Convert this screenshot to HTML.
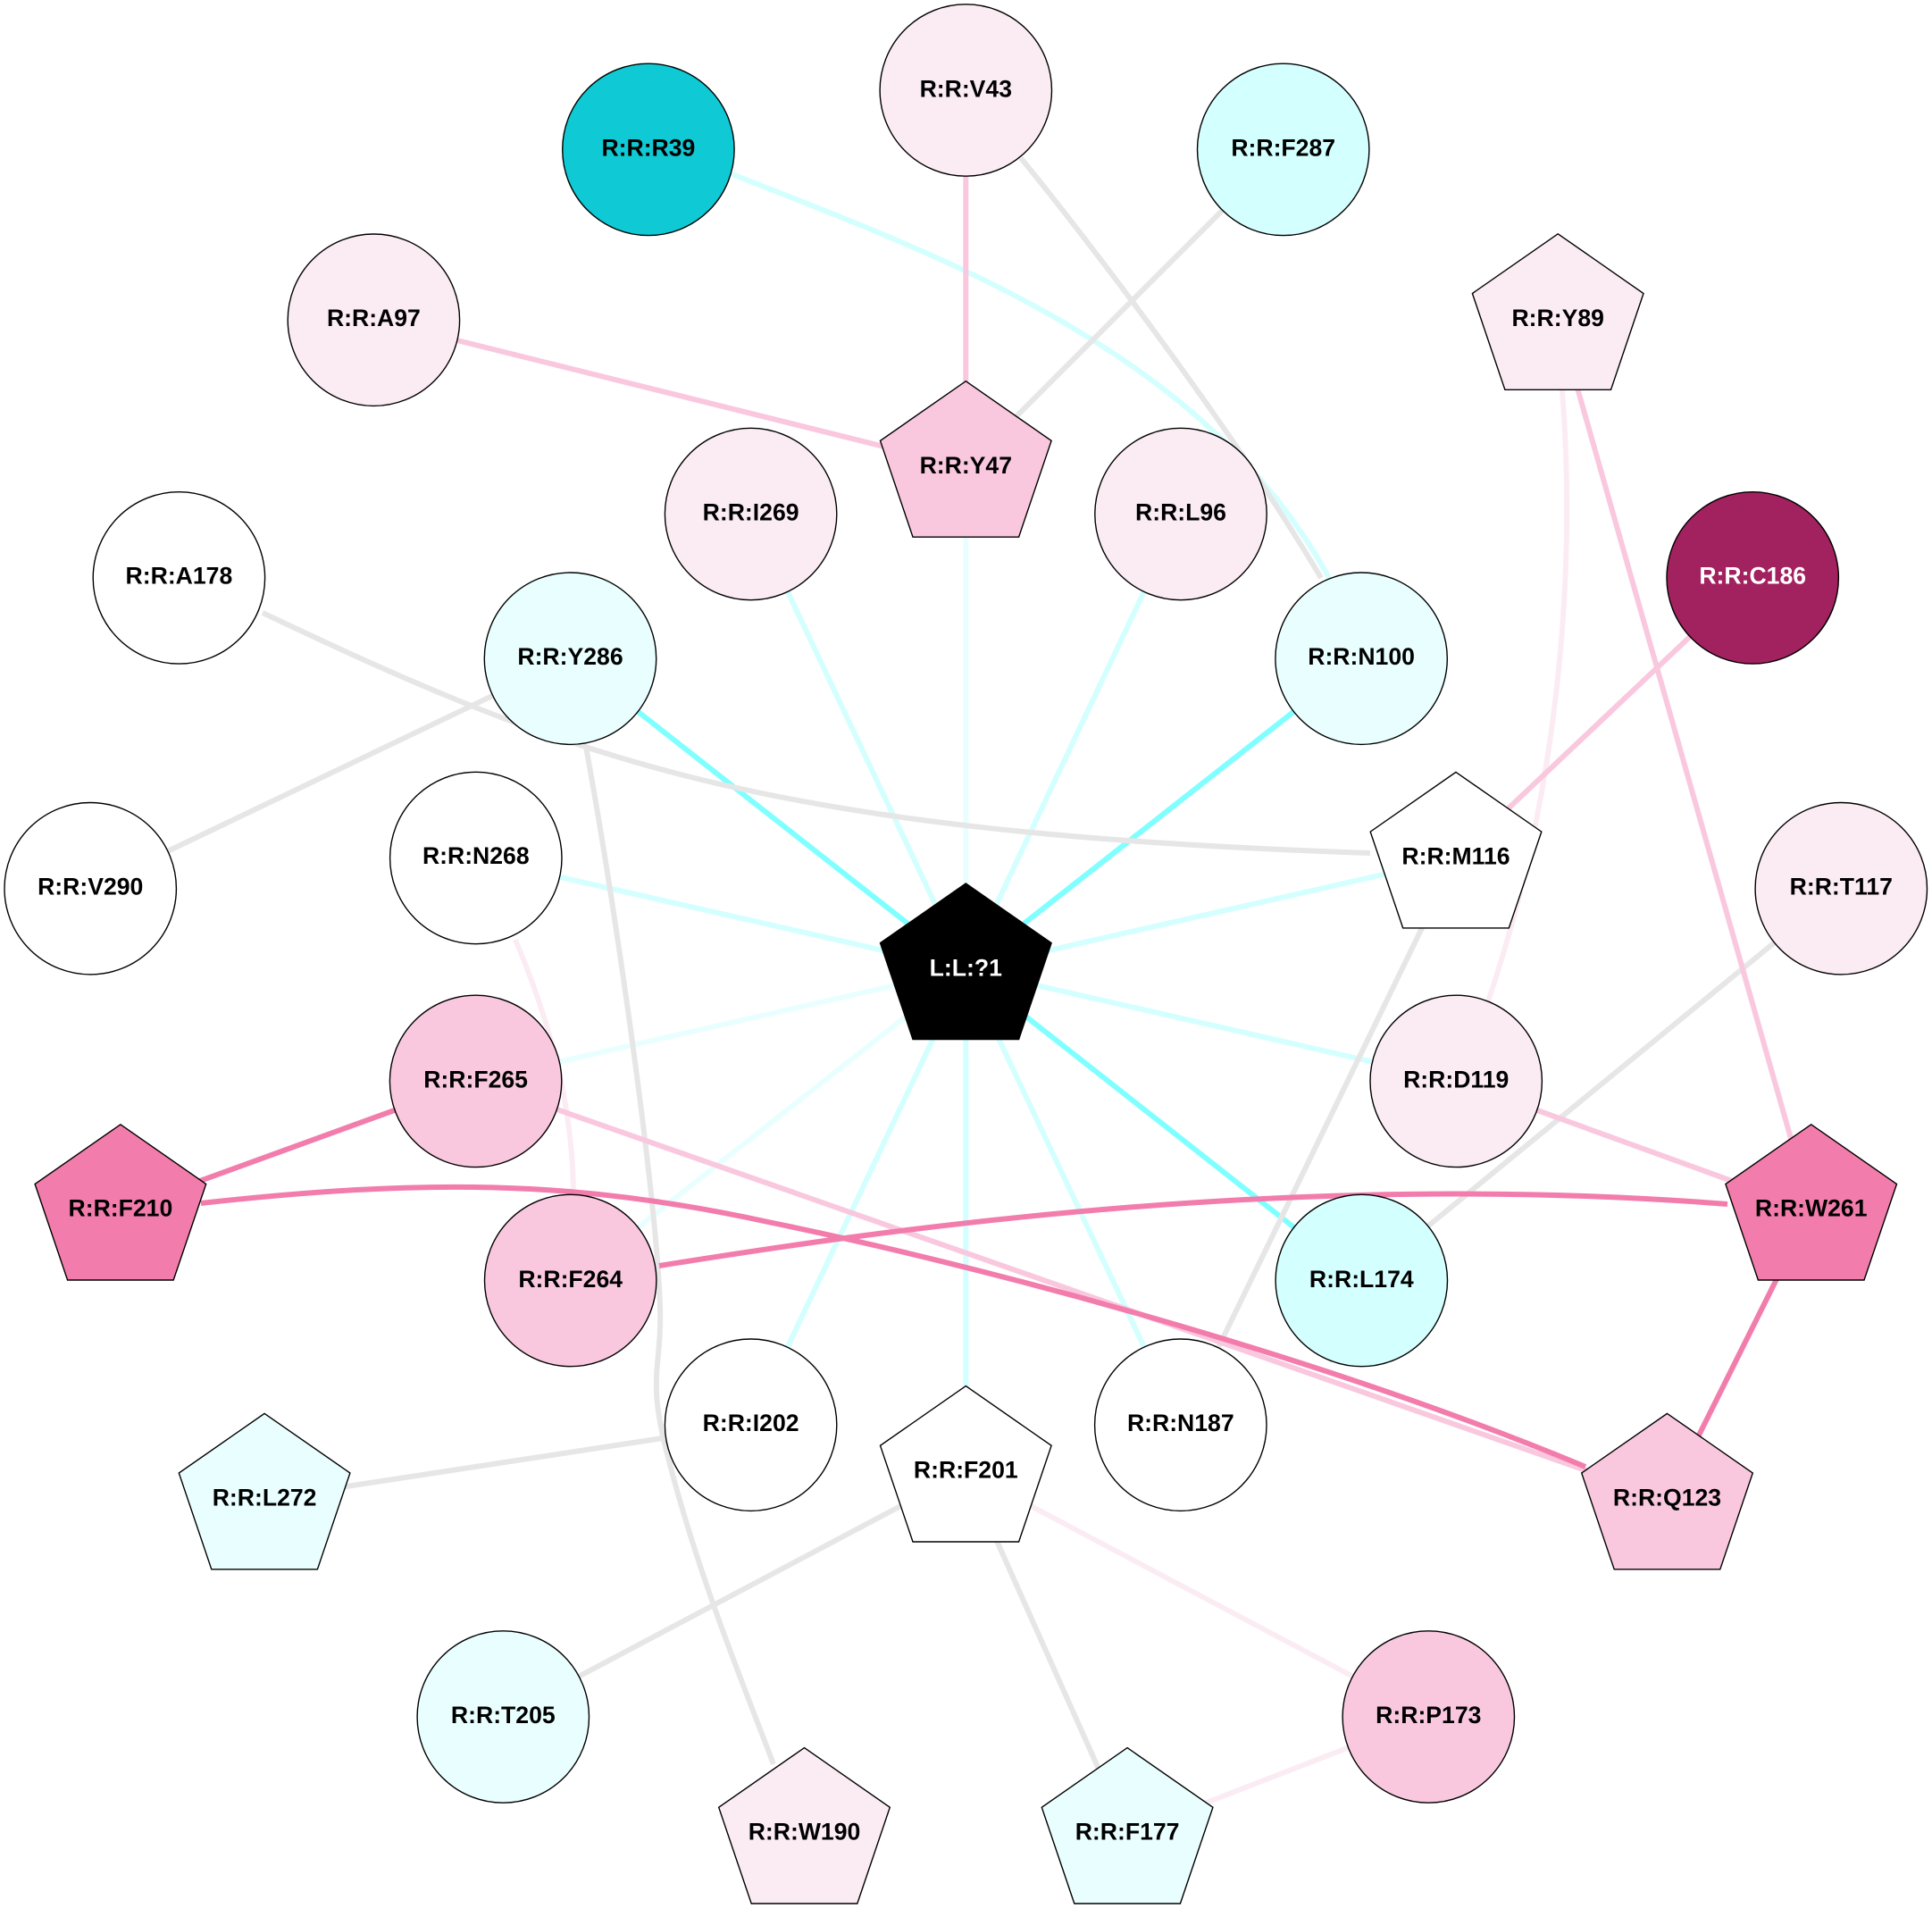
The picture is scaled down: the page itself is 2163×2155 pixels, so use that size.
<!DOCTYPE html>
<html><head><meta charset="utf-8"><style>
html,body{margin:0;padding:0;background:#fff}
svg{display:block}
text{font-family:"Liberation Sans",Arial,sans-serif;font-weight:bold;font-size:26.6px;text-anchor:middle;fill:#000}
.n{stroke:#000;stroke-width:1.4}
.e{fill:none;stroke-width:6}
.g{stroke:#e6e6e6}.c1{stroke:#7fffff}.c2{stroke:#d4ffff}.c3{stroke:#e9ffff}.p1{stroke:#f9c8de}.p2{stroke:#fbecf4}.p3{stroke:#f27dac}
</style></head><body>
<svg width="2163" height="2155" viewBox="0 0 2163 2155" xmlns="http://www.w3.org/2000/svg">
<rect width="2163" height="2155" fill="#fff"/>
<g class="e">
<path class="e c3" d="M1081.3 1085L1081.3 522.7"/>
<path class="e c2" d="M1081.3 1085L840.6 575"/>
<path class="e c2" d="M1081.3 1085L1322 575"/>
<path class="e c1" d="M1081.3 1085L638.5 737.2"/>
<path class="e c1" d="M1081.3 1085L1524.1 737.2"/>
<path class="e c2" d="M1081.3 1085L532.8 960.5"/>
<path class="e c2" d="M1081.3 1085L1630 960.5"/>
<path class="e c3" d="M1081.3 1085L532.3 1210"/>
<path class="e c2" d="M1081.3 1085L1630.3 1210"/>
<path class="e c3" d="M1081.3 1085L638.7 1433.5"/>
<path class="e c1" d="M1081.3 1085L1524.3 1433.5"/>
<path class="e c2" d="M1081.3 1085L840.6 1595"/>
<path class="e c2" d="M1081.3 1085L1322 1595"/>
<path class="e c2" d="M1081.3 1085L1081.3 1647.3"/>
<path class="e c2" d="M820 195C1030 279 1345 385 1488 647"/>
<path class="e g" d="M1143 177C1215 265 1380 480 1479 647"/>
<path class="e g" d="M1081.3 522.7L1436.7 167.4"/>
<path class="e g" d="M294 686C640 850 850 932 1534 955"/>
<path class="e g" d="M638.5 737.2L101.5 994.2"/>
<path class="e g" d="M656 836C690 1020 735 1340 739 1463C741 1530 725 1540 745 1620C780 1760 830 1880 866 1975"/>
<path class="e g" d="M1630 960.5L1322 1595"/>
<path class="e g" d="M2061.1 994.2L1524.3 1433.5"/>
<path class="e g" d="M840.6 1595L296.1 1678"/>
<path class="e g" d="M1081.3 1647.3L563.3 1921.6"/>
<path class="e g" d="M1081.3 1647.3L1262.1 2052.3"/>
<path class="e p2" d="M577 1052C610 1130 642 1230 642 1340"/>
<path class="e p2" d="M1749 437C1765 640 1745 890 1665 1124"/>
<path class="e p2" d="M1081.3 1647.3L1599.3 1921.6"/>
<path class="e p2" d="M1599.3 1921.6L1262.1 2052.3"/>
<path class="e p1" d="M1081.3 101L1081.3 522.7"/>
<path class="e p1" d="M418.4 357.8L1081.3 522.7"/>
<path class="e p1" d="M1744.2 357.8L2027.7 1354.3"/>
<path class="e p1" d="M1962.2 646.4L1630 960.5"/>
<path class="e p1" d="M1630.3 1210L2027.7 1354.3"/>
<path class="e p1" d="M532.3 1210L1866.5 1678"/>
<path class="e p3" d="M134.9 1354.3L532.3 1210"/>
<path class="e p3" d="M225 1347C470 1320 640 1320 860 1368C1090 1415 1470 1515 1775 1642"/>
<path class="e p3" d="M738 1417C1000 1375 1450 1310 1934 1348"/>
<path class="e p3" d="M2027.7 1354.3L1866.5 1678"/>
</g>
<circle class="n" cx="1081.3" cy="101" r="96.2" fill="#fbecf4"/><text x="1081.3" y="108.3">R:R:V43</text>
<circle class="n" cx="725.9" cy="167.4" r="96.2" fill="#0fc9d4"/><text x="725.9" y="174.7">R:R:R39</text>
<circle class="n" cx="1436.7" cy="167.4" r="96.2" fill="#d4ffff"/><text x="1436.7" y="174.7">R:R:F287</text>
<circle class="n" cx="418.4" cy="358.2" r="96.2" fill="#fbecf4"/><text x="418.4" y="365.1">R:R:A97</text>
<polygon class="n" points="1744.2,261.8 1840,328.5 1803.5,436.3 1684.9,436.3 1648.4,328.5" fill="#fbecf4"/><text x="1744.2" y="365.1">R:R:Y89</text>
<circle class="n" cx="200.4" cy="646.9" r="96.2" fill="#fff"/><text x="200.4" y="653.7">R:R:A178</text>
<circle class="n" cx="1962.2" cy="646.9" r="96.2" fill="#a2215f"/><text x="1962.2" y="653.7" style="fill:#fff">R:R:C186</text>
<polygon class="n" points="1081.3,426.7 1177.1,493.4 1140.6,601.2 1022,601.2 985.5,493.4" fill="#f9c8de"/><text x="1081.3" y="530">R:R:Y47</text>
<circle class="n" cx="840.6" cy="575.5" r="96.2" fill="#fbecf4"/><text x="840.6" y="582.3">R:R:I269</text>
<circle class="n" cx="1322" cy="575.5" r="96.2" fill="#fbecf4"/><text x="1322" y="582.3">R:R:L96</text>
<circle class="n" cx="638.5" cy="737.2" r="96.2" fill="#e9ffff"/><text x="638.5" y="743.8">R:R:Y286</text>
<circle class="n" cx="1524.1" cy="737.2" r="96.2" fill="#e9ffff"/><text x="1524.1" y="743.8">R:R:N100</text>
<circle class="n" cx="532.8" cy="960.5" r="96.2" fill="#fff"/><text x="532.8" y="967">R:R:N268</text>
<polygon class="n" points="1630,864.4 1725.8,931.1 1689.3,1038.9 1570.7,1038.9 1534.2,931.1" fill="#fff"/><text x="1630" y="967.3">R:R:M116</text>
<circle class="n" cx="101.2" cy="994.7" r="96.2" fill="#fff"/><text x="101.2" y="1001.5">R:R:V290</text>
<circle class="n" cx="2061.3" cy="994.7" r="96.2" fill="#fbecf4"/><text x="2061.3" y="1001.5">R:R:T117</text>
<polygon class="n" points="1081.3,989 1177.1,1055.7 1140.6,1163.5 1022,1163.5 985.5,1055.7" fill="#000"/><text x="1081.3" y="1092.3" style="fill:#fff">L:L:?1</text>
<circle class="n" cx="532.6" cy="1210.4" r="96.2" fill="#f9c8de"/><text x="532.6" y="1217.3">R:R:F265</text>
<circle class="n" cx="1630.2" cy="1210.4" r="96.2" fill="#fbecf4"/><text x="1630.2" y="1217.3">R:R:D119</text>
<polygon class="n" points="134.9,1258.8 230.7,1325.5 194.2,1433 75.6,1433 39.1,1325.5" fill="#f27dac"/><text x="134.9" y="1361.6">R:R:F210</text>
<polygon class="n" points="2027.7,1258.8 2123.5,1325.5 2087,1433 1968.4,1433 1931.9,1325.5" fill="#f27dac"/><text x="2027.7" y="1361.6">R:R:W261</text>
<circle class="n" cx="638.7" cy="1433.5" r="96.2" fill="#f9c8de"/><text x="638.7" y="1440.8">R:R:F264</text>
<circle class="n" cx="1524.3" cy="1433.5" r="96.2" fill="#d4ffff"/><text x="1524.3" y="1440.8">R:R:L174</text>
<circle class="n" cx="840.6" cy="1595.2" r="96.2" fill="#fff"/><text x="840.6" y="1602">R:R:I202</text>
<circle class="n" cx="1321.8" cy="1595.2" r="96.2" fill="#fff"/><text x="1321.8" y="1602">R:R:N187</text>
<polygon class="n" points="1081.3,1551.6 1177.1,1618.3 1140.6,1726 1022,1726 985.5,1618.3" fill="#fff"/><text x="1081.3" y="1654.6">R:R:F201</text>
<polygon class="n" points="296.1,1582.4 391.9,1649 355.4,1756.8 236.8,1756.8 200.3,1649" fill="#e9ffff"/><text x="296.1" y="1685.3">R:R:L272</text>
<polygon class="n" points="1866.5,1582.4 1962.3,1649 1925.8,1756.8 1807.2,1756.8 1770.7,1649" fill="#f9c8de"/><text x="1866.5" y="1685.3">R:R:Q123</text>
<circle class="n" cx="563.3" cy="1922" r="96.2" fill="#e9ffff"/><text x="563.3" y="1928.9">R:R:T205</text>
<circle class="n" cx="1599.3" cy="1922" r="96.2" fill="#f9c8de"/><text x="1599.3" y="1928.9">R:R:P173</text>
<polygon class="n" points="900.5,1956.6 996.3,2023.3 959.8,2131 841.2,2131 804.7,2023.3" fill="#fbecf4"/><text x="900.5" y="2059.6">R:R:W190</text>
<polygon class="n" points="1262.1,1956.6 1357.9,2023.3 1321.4,2131 1202.8,2131 1166.3,2023.3" fill="#e9ffff"/><text x="1262.1" y="2059.6">R:R:F177</text>
</svg>
</body></html>
